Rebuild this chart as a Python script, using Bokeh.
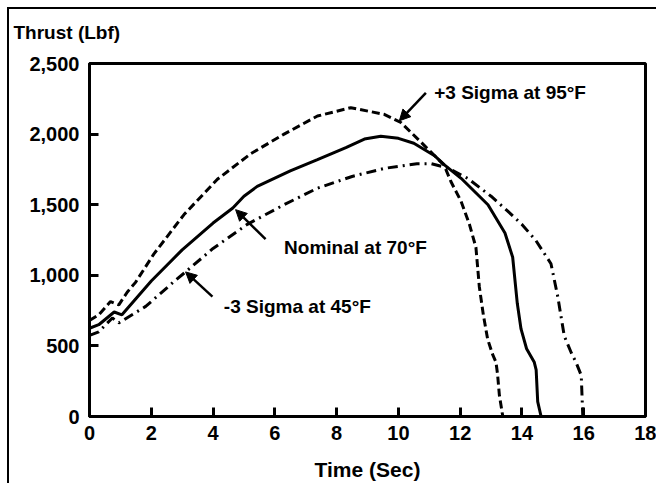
from bokeh.plotting import figure
from bokeh.models import Range1d, NumeralTickFormatter, FixedTicker, Arrow, NormalHead, Label
from bokeh.embed import file_html
from bokeh.resources import INLINE

# ---- data ----
x_ticks = [0, 2, 4, 6, 8, 10, 12, 14, 16, 18]
y_ticks = [0, 500, 1000, 1500, 2000, 2500]

t_plus3 = [0, 0.3, 0.68, 0.95, 1.22, 1.49, 2.08, 3.06, 4.14, 5.22, 6.3, 7.38, 8.46, 9.54,
           10.08, 10.73, 11.48, 11.70, 12.03, 12.3, 12.51, 12.62, 12.75, 12.89, 13.05,
           13.16, 13.21, 13.27, 13.38]
thrust_plus3 = [680, 720, 814, 791, 880, 950, 1150, 1430, 1680, 1861, 2000, 2128, 2187, 2140,
                2082, 1943, 1780, 1664, 1524, 1361, 1198, 919, 720, 547, 440,
                384, 300, 150, 0]

t_nominal = [0, 0.3, 0.8, 1.05, 2.0, 3.0, 4.0, 4.64, 5.0, 5.43, 6.5, 7.38, 8.3, 8.9, 9.43, 10.0,
             10.5, 11.16, 11.5, 12.03, 12.9, 13.45, 13.7, 13.85, 13.97, 14.15, 14.4, 14.46,
             14.51, 14.62]
thrust_nominal = [625, 650, 740, 720, 960, 1180, 1370, 1477, 1560, 1630, 1740, 1820, 1905, 1965, 1985, 1970,
                  1935, 1849, 1780, 1687, 1500, 1300, 1128, 800, 620, 480, 384, 330,
                  105, 0]

t_minus3 = [0, 0.3, 0.74, 0.95, 1.82, 2.79, 3.11, 4.0, 5.11, 6.3, 7.38, 8.5, 9.54, 10.6, 11.05,
            11.6, 12.24, 13.0, 13.54, 14.0, 14.45, 14.94, 15.16, 15.37, 15.6, 15.75, 15.92, 15.97]
thrust_minus3 = [575, 600, 698, 663, 780, 966, 1024, 1190, 1361, 1500, 1617, 1700, 1757, 1790, 1791,
                 1760, 1687, 1560, 1454, 1360, 1247, 1082, 849, 570, 450, 384, 291, 0]

series_labels = ["+3 Sigma at 95°F", "Nominal at 70°F", "-3 Sigma at 45°F"]
y_title = "Thrust (Lbf)"
x_title = "Time (Sec)"

FONT = "Liberation Sans"

p = figure(width=656, height=483, output_backend="svg", toolbar_location=None,
           x_range=Range1d(0, 18), y_range=Range1d(0, 2500),
           min_border_left=89, min_border_right=11, min_border_top=63, min_border_bottom=61)
# outer page frame (top and left rules) drawn behind a transparent border area
p.border_fill_color = None
p.background_fill_color = "white"
p.styles = {"background": "linear-gradient(black, black) 7px 7px / 2px 476px no-repeat, "
                          "linear-gradient(black, black) 7px 7px / 649px 2px no-repeat, white"}

p.xgrid.visible = False
p.ygrid.visible = False
p.outline_line_color = "black"
p.outline_line_width = 3
p.outline_line_alpha = 1.0

p.xaxis.ticker = FixedTicker(ticks=x_ticks)
p.yaxis.ticker = FixedTicker(ticks=y_ticks)
p.yaxis.formatter = NumeralTickFormatter(format="0,0")
for ax in (p.xaxis, p.yaxis):
    ax.axis_line_width = 3
    ax.axis_line_color = "black"
    ax.major_tick_line_width = 3
    ax.major_tick_line_color = "black"
    ax.major_tick_in = 9
    ax.major_tick_out = 0
    ax.minor_tick_line_color = None
    ax.major_label_text_font = FONT
    ax.major_label_text_font_size = "20px"
    ax.major_label_text_font_style = "bold"
    ax.major_label_text_color = "black"
p.yaxis.major_label_standoff = 10
p.xaxis.major_label_standoff = 9
p.xaxis.axis_label = x_title
p.xaxis.axis_label_text_font = FONT
p.xaxis.axis_label_text_font_size = "21px"
p.xaxis.axis_label_text_font_style = "bold"
p.xaxis.axis_label_text_color = "black"
p.xaxis.axis_label_standoff = 15

# title with a trailing empty line lifts the y-axis title above the frame corner
p.title.text = y_title + "\n"
p.title.text_line_height = 0.75
p.title.align = "left"
p.title.offset = -76
p.title.text_font = FONT
p.title.text_font_size = "19px"
p.title.text_font_style = "bold"
p.title.text_color = "black"

p.line(t_plus3, thrust_plus3, line_color="black", line_width=3, line_dash="8 4")
p.line(t_nominal, thrust_nominal, line_color="black", line_width=3)
p.line(t_minus3, thrust_minus3, line_color="black", line_width=3, line_dash="10 5 2 5")

label_pos = [(11.16, 2294), (6.30, 1200), (4.35, 779)]
arrow_pos = [((10.89, 2292), (10.03, 2094)),
             ((5.70, 1256), (4.73, 1465)),
             ((3.98, 849), (3.11, 1024))]

for txt, (lx, ly), ((xs, ys), (xe, ye)) in zip(series_labels, label_pos, arrow_pos):
    p.add_layout(Label(x=lx, y=ly, text=txt, text_font=FONT, text_font_size="19px",
                       text_font_style="bold", text_color="black",
                       text_baseline="alphabetic", text_align="left"))
    p.add_layout(Arrow(x_start=xs, y_start=ys, x_end=xe, y_end=ye, line_width=2.5,
                       line_color="black",
                       end=NormalHead(size=11, fill_color="black", line_color="black",
                                      line_width=1)))

open("out.html", "w").write(file_html(p, INLINE, "Thrust"))
